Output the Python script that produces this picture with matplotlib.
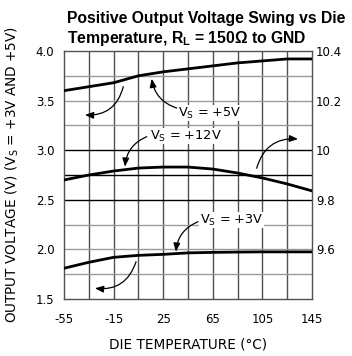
import matplotlib
matplotlib.use("Agg")
import matplotlib.pyplot as plt

plt.rcParams['font.family'] = ['DejaVu Sans']
plt.rcParams['mathtext.fontset'] = 'custom'
plt.rcParams['mathtext.rm'] = 'DejaVu Sans'
plt.rcParams['mathtext.bf'] = 'Liberation Sans:bold'

temp = [-55, -35, -15, 5, 25, 45, 65, 85, 105, 125, 145]
vs5 = [3.60, 3.64, 3.68, 3.75, 3.79, 3.82, 3.85, 3.88, 3.90, 3.92, 3.92]
vs3 = [1.81, 1.87, 1.92, 1.94, 1.95, 1.965, 1.97, 1.973, 1.975, 1.975, 1.975]
vs12 = [9.88, 9.90, 9.916, 9.928, 9.932, 9.932, 9.924, 9.908, 9.888, 9.864, 9.836]

xticks = [-55, -15, 25, 65, 105, 145]
yticks = [1.5, 2.0, 2.5, 3.0, 3.5, 4.0]
rticks = [9.6, 9.8, 10.0, 10.2, 10.4]
rlabels = ["9.6", "9.8", "10", "10.2", "10.4"]

W, H = 352, 356
fig = plt.figure(figsize=(W/100, H/100), dpi=100)
ax = fig.add_axes([64/W, 1-299/H, 248/W, 248/H])
ax.set_xlim(-55, 145)
ax.set_ylim(1.5, 4.0)

# grid
for x in range(-35, 145, 20):
    ax.axvline(x, color='#505050', lw=1.0, zorder=1)
for y in [1.75, 2.0, 2.25, 2.5, 2.75, 3.0, 3.25, 3.5, 3.75]:
    c = '#000000' if y in (2.5, 2.75, 3.0) else '#9a9a9a'
    ax.axhline(y, color=c, lw=1.0, zorder=1)

ax.plot(temp, vs5, color='black', lw=2.0, zorder=3)
ax.plot(temp, vs3, color='black', lw=2.0, zorder=3)

ax.set_xticks(xticks)
ax.set_xticklabels([str(t) for t in xticks])
ax.set_yticks(yticks)
ax.set_yticklabels([f"{t:.1f}" for t in yticks])
ax.tick_params(axis='x', length=0, pad=10, labelsize=8.5)
ax.tick_params(axis='y', length=0, pad=7, labelsize=8.5)
for s in ax.spines.values():
    s.set_color('#505050')
    s.set_linewidth(1.0)

ax2 = ax.twinx()
ax2.set_ylim(9.4, 10.4)
ax2.plot(temp, vs12, color='black', lw=2.0, zorder=3)
ax2.set_yticks(rticks)
ax2.set_yticklabels(rlabels)
ax2.tick_params(axis='y', length=0, pad=3, labelsize=8.5)
for s in ax2.spines.values():
    s.set_visible(False)

ax.set_xlabel("DIE TEMPERATURE (\u00b0C)", fontsize=9.8, labelpad=8)
fig.text(12/W, 1-175/H, "OUTPUT VOLTAGE (V) (V$_\\mathrm{S}$ = +3V AND +5V)",
         rotation=90, ha='center', va='center', fontsize=9.8)

fig.text(67/W, 1-11/H, "Positive Output Voltage Swing vs Die",
         family='Liberation Sans', weight='bold', fontsize=11.3, ha='left', va='top')
fig.text(67/W, 1-29/H, "Temperature, R$_\\mathbf{L}$ = 150\u03a9 to GND",
         family='Liberation Sans', weight='bold', fontsize=11.3, ha='left', va='top')

bb = dict(facecolor='white', edgecolor='none', pad=0.5)
ax.text(37, 3.375, "V$_\\mathrm{S}$ = +5V", fontsize=9.3, ha='left', va='center', bbox=bb, zorder=4)
ax.text(14.4, 3.143, "V$_\\mathrm{S}$ = +12V", fontsize=9.3, ha='left', va='center', bbox=bb, zorder=4)
ax.text(54.7, 2.296, "V$_\\mathrm{S}$ = +3V", fontsize=9.3, ha='left', va='center', bbox=bb, zorder=4)

ap = lambda r: dict(arrowstyle='-|>,head_length=0.5,head_width=0.2', color='black', lw=0.9,
                    connectionstyle=f'arc3,rad={r}', shrinkA=0, shrinkB=0)
ax.annotate('', xy=(15.7, 3.72), xytext=(35.9, 3.425), arrowprops=ap(-0.3), zorder=5)
ax.annotate('', xy=(-38.1, 3.355), xytext=(-7.2, 3.64), arrowprops=ap(-0.4), zorder=5)
ax.annotate('', xy=(-5.8, 2.834), xytext=(11.7, 3.136), arrowprops=ap(0.3), zorder=5)
ax.annotate('', xy=(133.7, 3.113), xytext=(100.4, 2.818), arrowprops=ap(-0.4), zorder=5)
ax.annotate('', xy=(35.3, 1.977), xytext=(53.1, 2.279), arrowprops=ap(0.3), zorder=5)
ax.annotate('', xy=(-30.0, 1.608), xytext=(3.1, 1.876), arrowprops=ap(-0.4), zorder=5)

fig.savefig("out.png", dpi=100)
